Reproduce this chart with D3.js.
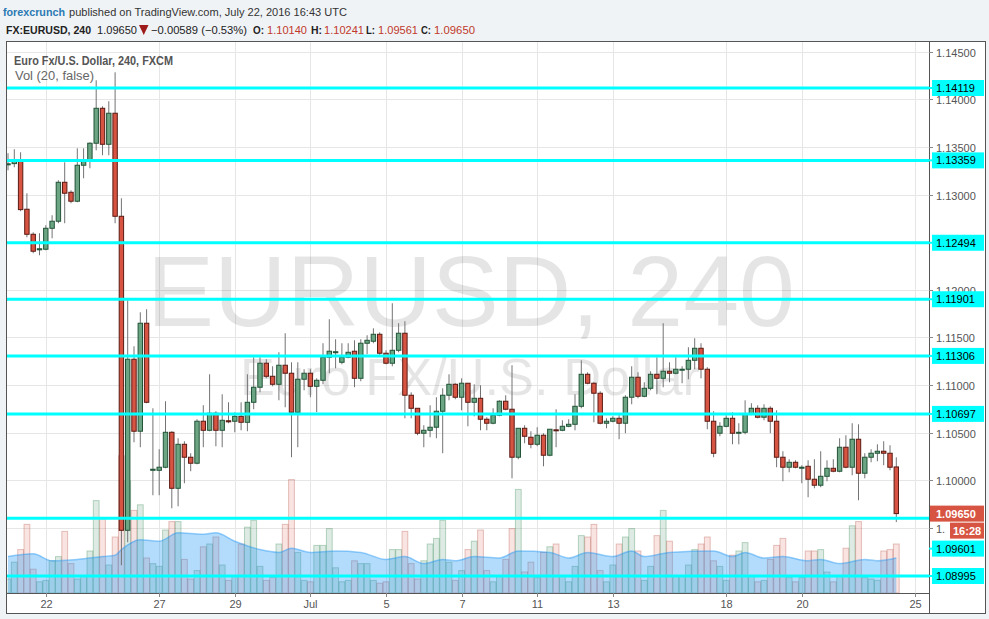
<!DOCTYPE html>
<html><head><meta charset="utf-8">
<script src="https://cdn.jsdelivr.net/npm/d3@7"></script>
<style>
html,body{margin:0;padding:0;background:#f0f3f6;}
svg{display:block;font-family:"Liberation Sans",Arial,sans-serif;}
</style></head><body>
<svg id="c" width="989" height="619"></svg>
<script>
// ---------- DATA (EUR/USD, 240 min, FXCM) ----------
const opens=[1.13313,1.13325,1.13353,1.12846,1.12583,1.12420,1.12426,1.12646,1.12720,1.13129,
1.13024,1.12930,1.13308,1.13350,1.13539,1.13906,1.13528,1.13854,1.12772,1.09475,
1.11271,1.10515,1.11649,1.10105,1.10105,1.10137,1.10504,1.09916,1.10378,1.10242,
1.10179,1.10620,1.10525,1.10704,1.10525,1.10625,1.10620,1.10672,1.10609,1.10819,
1.10977,1.11229,1.11092,1.11008,1.11208,1.11124,1.10714,1.11061,1.11124,1.10987,
1.11050,1.11292,1.11344,1.11239,1.11292,1.11355,1.11071,1.11439,1.11460,1.11533,
1.11334,1.11229,1.11365,1.11544,1.10893,1.10756,1.10494,1.10525,1.10557,1.10725,
1.10893,1.11008,1.10872,1.11019,1.10819,1.10861,1.10641,1.10599,1.10683,1.10830,
1.10746,1.10242,1.10546,1.10452,1.10378,1.10473,1.10263,1.10530,1.10525,1.10567,
1.10588,1.10777,1.11113,1.11019,1.10914,1.10599,1.10620,1.10651,1.10599,1.10872,
1.11082,1.10882,1.10966,1.11113,1.11071,1.11145,1.11124,1.11160,1.11166,1.11260,
1.11386,1.11166,1.10620,1.10494,1.10567,1.10651,1.10499,1.10504,1.10693,1.10756,
1.10662,1.10756,1.10620,1.10242,1.10137,1.10189,1.10131,1.10147,1.10011,1.09948,
1.10042,1.10126,1.10095,1.10347,1.10137,1.10431,1.10074,1.10242,1.10284,1.10305,
1.10284,1.10140];
const highs=[1.13434,1.13476,1.13444,1.13014,1.12604,1.12594,1.12678,1.12783,1.13150,1.13339,
1.13045,1.13486,1.13486,1.13549,1.14200,1.13927,1.13980,1.14284,1.12961,1.11890,
1.11407,1.11764,1.11796,1.10756,1.10326,1.10830,1.10515,1.10441,1.10410,1.10284,
1.10641,1.10788,1.11113,1.10725,1.10903,1.10819,1.10714,1.10819,1.11113,1.11292,
1.11292,1.11271,1.11197,1.11344,1.11544,1.11239,1.11239,1.11166,1.11166,1.11071,
1.11439,1.11691,1.11481,1.11439,1.11439,1.11470,1.11481,1.11523,1.11596,1.11554,
1.11365,1.11859,1.11649,1.11670,1.10924,1.10756,1.10578,1.10788,1.10872,1.10966,
1.11113,1.11019,1.11071,1.11019,1.11008,1.10998,1.10662,1.10756,1.10840,1.10893,
1.11208,1.10546,1.10578,1.10515,1.10557,1.10494,1.10536,1.10746,1.10630,1.10641,
1.10903,1.11260,1.11134,1.11029,1.10935,1.10651,1.10672,1.10704,1.10893,1.11197,
1.11134,1.11029,1.11145,1.11292,1.11649,1.11239,1.11292,1.11197,1.11397,1.11491,
1.11439,1.11187,1.10725,1.10609,1.10683,1.10714,1.10599,1.10840,1.10809,1.10788,
1.10798,1.10777,1.10735,1.10305,1.10221,1.10210,1.10158,1.10210,1.10221,1.10305,
1.10210,1.10221,1.10441,1.10473,1.10599,1.10588,1.10284,1.10326,1.10378,1.10410,
1.10368,1.10241];
const lows=[1.13255,1.13287,1.12825,1.12552,1.12384,1.12363,1.12415,1.12541,1.12699,1.12699,
1.12909,1.12919,1.13171,1.13276,1.13465,1.13413,1.13413,1.12699,1.09108,1.09349,
1.10399,1.10347,1.10809,1.09843,1.09843,1.10126,1.09706,1.09727,1.09969,1.10095,
1.10168,1.10347,1.10515,1.10357,1.10347,1.10599,1.10504,1.10525,1.10515,1.10746,
1.10924,1.11071,1.10987,1.10840,1.10767,1.10242,1.10347,1.10945,1.10872,1.10714,
1.11008,1.11124,1.11176,1.11218,1.11281,1.10977,1.11040,1.11323,1.11439,1.11313,
1.11218,1.11197,1.11344,1.10651,1.10651,1.10473,1.10347,1.10452,1.10441,1.10284,
1.10840,1.10851,1.10735,1.10567,1.10672,1.10525,1.10525,1.10588,1.10672,1.10735,
1.10021,1.10221,1.10389,1.10336,1.10357,1.10147,1.10252,1.10347,1.10515,1.10557,
1.10525,1.10756,1.11008,1.10609,1.10588,1.10546,1.10609,1.10431,1.10494,1.10798,
1.10861,1.10872,1.10945,1.10903,1.10977,1.11029,1.11113,1.11019,1.11061,1.11166,
1.11071,1.10536,1.10242,1.10462,1.10557,1.10378,1.10378,1.10483,1.10683,1.10651,
1.10630,1.10494,1.10137,1.09990,1.10084,1.10126,1.09969,1.09822,1.09916,1.09927,
1.09990,1.10084,1.10084,1.10126,1.10053,1.09790,1.10021,1.10189,1.10200,1.10158,
1.10105,1.09561];
const closes=[1.13323,1.13353,1.12842,1.12583,1.12405,1.12431,1.12646,1.12720,1.13129,1.13014,
1.12930,1.13308,1.13350,1.13539,1.13906,1.13528,1.13854,1.12772,1.09475,1.11271,
1.10515,1.11649,1.10819,1.10116,1.10137,1.10504,1.09916,1.10378,1.10242,1.10179,
1.10620,1.10525,1.10704,1.10525,1.10630,1.10614,1.10672,1.10609,1.10819,1.10977,
1.11229,1.11092,1.11008,1.11208,1.11124,1.10714,1.11061,1.11124,1.10987,1.11050,
1.11292,1.11355,1.11350,1.11292,1.11344,1.11071,1.11439,1.11470,1.11533,1.11334,
1.11229,1.11365,1.11544,1.10893,1.10756,1.10494,1.10525,1.10557,1.10725,1.10893,
1.11008,1.10872,1.11019,1.10819,1.10861,1.10641,1.10599,1.10683,1.10830,1.10746,
1.10242,1.10546,1.10462,1.10378,1.10473,1.10263,1.10536,1.10520,1.10567,1.10588,
1.10777,1.11113,1.11019,1.10914,1.10599,1.10620,1.10651,1.10599,1.10872,1.11082,
1.10882,1.10966,1.11113,1.11071,1.11145,1.11124,1.11166,1.11166,1.11260,1.11386,
1.11166,1.10620,1.10284,1.10567,1.10651,1.10494,1.10504,1.10693,1.10756,1.10662,
1.10756,1.10620,1.10242,1.10137,1.10189,1.10137,1.10137,1.10011,1.09948,1.10042,
1.10126,1.10095,1.10347,1.10137,1.10431,1.10074,1.10242,1.10284,1.10305,1.10284,
1.10137,1.09650];
const volumes=[10,22,31,49,17,8,9,23,26,44,
21,10,12,30,66,53,20,40,98,80,
59,63,25,21,19,45,51,51,24,10,
16,33,35,40,20,9,12,35,47,52,
19,9,11,35,49,81,29,9,8,34,
34,46,18,8,9,23,21,21,9,7,
8,31,31,44,21,10,23,35,39,52,
22,9,16,31,37,45,16,8,12,24,
46,74,15,22,11,29,33,35,12,8,
19,41,40,49,16,8,20,35,40,46,
30,9,19,41,59,37,12,12,20,31,
35,40,23,19,9,27,30,36,12,8,
9,24,34,39,11,8,11,30,30,31,
15,8,12,32,48,51,11,10,9,30,
31,35];
// Volume moving average (20) read at sample bars
const maIdx=[0,4,7,11,15,17,18,21,24,27,31,33,36,40,43,45,48,52,56,60,63,66,69,71,74,78,81,86,89,92,96,99,101,105,112,115,117,120,123,127,129,132,136,138,141];
const maVol=[26,28,23,24,26,27,31,38,37,43,42,43,37,31,29,32,29,30,29,24,26,21,24,23,26,25,30,29,25,29,26,30,26,29,30,26,29,25,26,23,24,21,24,23,25];
// Horizontal support/resistance levels
const levels=[1.14119,1.13359,1.12494,1.11901,1.11306,1.10697,1.09601,1.08995];
// Axis ticks
const priceTicks=[1.090,1.095,1.100,1.105,1.110,1.115,1.120,1.125,1.130,1.135,1.140,1.145];
const dateTickIdx=[6,24,36,48,60,72,84,96,114,126,144];
const dateTickLabels=["22","27","29","Jul","5","7","11","13","18","20","25"];
const lastPrice=1.09650, countdown="16:28";

// ---------- LAYOUT ----------
const W=989,H=619;
const P={l:7,r:929,t:42,b:593};
const AX_R=985, AX_B=613;
const UP="#6ba583", UPB="#225437", DN="#d75442", DNB="#5b1a13", WICK="#737375";

const svg=d3.select('#c');
svg.append('rect').attr('width',W).attr('height',H).attr('fill','#f0f3f6');
svg.append('rect').attr('x',P.l).attr('y',P.t).attr('width',AX_R-P.l).attr('height',AX_B-P.t).attr('fill','#fff');

const x=d3.scaleLinear().domain([0,144]).range([8,915.2]);
const y=d3.scaleLinear().domain([1.08995,1.14119]).range([576,88]);
const yv=d3.scaleLinear().domain([0,100]).range([P.b,P.b-140]);

svg.append('clipPath').attr('id','pc').append('rect')
  .attr('x',P.l).attr('y',P.t).attr('width',P.r-P.l).attr('height',P.b-P.t);
const g=svg.append('g').attr('clip-path','url(#pc)');

// grid
g.selectAll('.hg').data(priceTicks).join('line')
  .attr('x1',P.l).attr('x2',P.r).attr('y1',d=>Math.round(y(d))+0.5).attr('y2',d=>Math.round(y(d))+0.5)
  .attr('stroke','#e6e6e6').attr('stroke-width',1);
g.selectAll('.vg').data(dateTickIdx).join('line')
  .attr('x1',d=>Math.round(x(d))+0.5).attr('x2',d=>Math.round(x(d))+0.5).attr('y1',P.t).attr('y2',P.b)
  .attr('stroke','#e6e6e6').attr('stroke-width',1);

// watermark
g.append('text').attr('x',471).attr('y',326).attr('text-anchor','middle')
  .attr('font-size',100).attr('fill','#000').attr('fill-opacity',0.1)
  .attr('textLength',648).attr('lengthAdjust','spacingAndGlyphs').text('EURUSD, 240');
g.append('text').attr('x',470).attr('y',395).attr('text-anchor','middle')
  .attr('font-size',52).attr('fill','#000').attr('fill-opacity',0.1)
  .attr('textLength',460).attr('lengthAdjust','spacingAndGlyphs').text('Euro FX/U.S. Dollar');

const bars=opens.map((o,i)=>({i,o,h:highs[i],l:lows[i],c:closes[i],v:volumes[i]}));

// volume bars
g.selectAll('.vb').data(bars).join('rect')
  .attr('x',d=>x(d.i)-2.9).attr('width',5.8)
  .attr('y',d=>yv(d.v)).attr('height',d=>P.b-yv(d.v))
  .attr('fill',d=>d.c>=d.o?'rgba(107,165,131,0.22)':'rgba(215,84,66,0.16)')
  .attr('stroke',d=>d.c>=d.o?'rgba(60,140,90,0.35)':'rgba(170,60,50,0.3)').attr('stroke-width',1);

// volume MA area
const ma=maIdx.map((k,j)=>({i:k,v:maVol[j]}));
g.append('path').datum(ma)
  .attr('d',d3.area().x(d=>x(d.i)).y0(P.b).y1(d=>yv(d.v)).curve(d3.curveMonotoneX))
  .attr('fill','rgba(33,150,243,0.34)');
g.append('path').datum(ma)
  .attr('d',d3.line().x(d=>x(d.i)).y(d=>yv(d.v)).curve(d3.curveMonotoneX))
  .attr('fill','none').attr('stroke','rgba(33,150,243,0.45)').attr('stroke-width',1.5);

// candles
const cg=g.selectAll('.cd').data(bars).join('g');
cg.append('line').attr('x1',d=>x(d.i)).attr('x2',d=>x(d.i))
  .attr('y1',d=>y(d.h)).attr('y2',d=>y(d.l)).attr('stroke',WICK).attr('stroke-width',1);
cg.append('rect').attr('x',d=>x(d.i)-2.2).attr('width',4.4)
  .attr('y',d=>y(Math.max(d.o,d.c)))
  .attr('height',d=>Math.max(1,Math.abs(y(d.o)-y(d.c))))
  .attr('fill',d=>d.c>=d.o?UP:DN).attr('stroke',d=>d.c>=d.o?UPB:DNB).attr('stroke-width',1);

// levels
g.selectAll('.lv').data(levels).join('line')
  .attr('x1',P.l).attr('x2',P.r).attr('y1',d=>y(d)).attr('y2',d=>y(d))
  .attr('stroke','#00ffff').attr('stroke-width',3);

// ---------- PRICE AXIS ----------
const ax=svg.append('g');
ax.append('line').attr('x1',P.r+0.5).attr('x2',P.r+0.5).attr('y1',P.t).attr('y2',AX_B).attr('stroke','#555');
const yp=y(lastPrice);
priceTicks.forEach(p=>{
  const yy=Math.round(y(p))+0.5;
  ax.append('line').attr('x1',P.r).attr('x2',P.r+4).attr('y1',yy).attr('y2',yy).attr('stroke','#888');
  const nearCountdown=Math.abs(yy-(yp+17))<8;
  ax.append('text').attr('x',P.r+7).attr('y',yy+4).attr('font-size',11).attr('fill','#555')
    .text(nearCountdown? p.toFixed(5).slice(0,2) : p.toFixed(5));
});
// current price label + countdown
ax.append('rect').attr('x',P.r+1).attr('y',yp-8).attr('width',AX_R-P.r-2).attr('height',16).attr('fill','#d75442');
ax.append('text').attr('x',P.r+7).attr('y',yp+4).attr('font-size',11).attr('font-weight','bold').attr('fill','#fff').text(lastPrice.toFixed(5));
ax.append('rect').attr('x',950).attr('y',yp+9).attr('width',AX_R-951).attr('height',16).attr('fill','#d75442');
ax.append('text').attr('x',953).attr('y',yp+21).attr('font-size',11).attr('font-weight','bold').attr('fill','#fff').text(countdown);
// level labels (pushed below the price/countdown labels when they collide)
levels.forEach(lv=>{
  let yy=y(lv);
  if(Math.abs(yy-yp)<34 && lv!==lastPrice) yy=yp+35;
  ax.append('line').attr('x1',P.r).attr('x2',P.r+4).attr('y1',yy).attr('y2',yy).attr('stroke','#00ffff').attr('stroke-width',2);
  ax.append('rect').attr('x',P.r+3).attr('y',yy-8).attr('width',AX_R-P.r-4).attr('height',16).attr('fill','#00ffff');
  ax.append('text').attr('x',P.r+7).attr('y',yy+4).attr('font-size',11).attr('fill','#000').text(lv.toFixed(5));
});

// ---------- TIME AXIS ----------
svg.append('line').attr('x1',P.l).attr('x2',P.r).attr('y1',P.b+0.5).attr('y2',P.b+0.5).attr('stroke','#555');
dateTickIdx.forEach((k,j)=>{
  const xx=Math.round(x(k))+0.5;
  svg.append('line').attr('x1',xx).attr('x2',xx).attr('y1',P.b).attr('y2',P.b+4).attr('stroke','#888');
  svg.append('text').attr('x',xx).attr('y',P.b+15).attr('text-anchor','middle').attr('font-size',11).attr('fill','#555').text(dateTickLabels[j]);
});
// frame
svg.append('rect').attr('x',P.l-0.5).attr('y',P.t-0.5).attr('width',AX_R-P.l+1).attr('height',AX_B-P.t+1)
  .attr('fill','none').attr('stroke','#555');

// ---------- LEGEND ----------
svg.append('text').attr('x',14).attr('y',65).attr('font-size',12).attr('fill','#555').attr('font-weight','bold')
  .attr('textLength',159).attr('lengthAdjust','spacingAndGlyphs').text('Euro Fx/U.S. Dollar, 240, FXCM');
svg.append('text').attr('x',15).attr('y',80).attr('font-size',12.5).attr('fill','#666')
  .attr('textLength',79).attr('lengthAdjust','spacingAndGlyphs').text('Vol (20, false)');

// ---------- HEADER ----------
const head=[
 [3,16,'forexcrunch','#2a7ab3',true,62],
 [69,16,'published on TradingView.com, July 22, 2016 16:43 UTC','#333',false,278],
 [6,34,'FX:EURUSD, 240','#222',true,85],[97,34,'1.09650','#222',false,40],
 [151,34,'\u22120.00589 (\u22120.53%)','#222',false,96],
 [253,34,'O:','#222',true,11],[267,34,'1.10140','#c0392b',false,40],
 [311,34,'H:','#222',true,11],[324,34,'1.10241','#c0392b',false,40],
 [366,34,'L:','#222',true,9],[378,34,'1.09561','#c0392b',false,40],
 [421,34,'C:','#222',true,10],[434,34,'1.09650','#c0392b',false,41]];
head.forEach(p=>{
  svg.append('text').attr('x',p[0]).attr('y',p[1]).attr('font-size',11).attr('fill',p[3])
   .attr('font-weight',p[4]?'bold':'normal').attr('textLength',p[5]).attr('lengthAdjust','spacingAndGlyphs').text(p[2]);
});
svg.append('path').attr('d','M139,25 L148.5,25 L143.75,35 Z').attr('fill','#9e1b1b');
</script>
</body></html>
